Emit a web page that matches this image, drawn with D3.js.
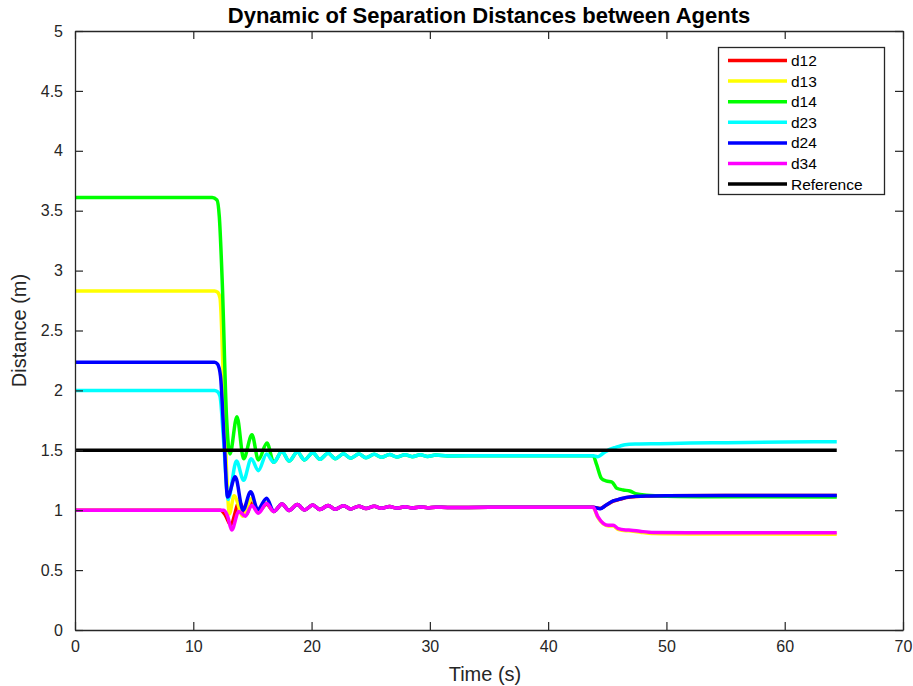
<!DOCTYPE html>
<html>
<head>
<meta charset="utf-8">
<script src="https://cdn.jsdelivr.net/npm/d3@7"></script>
<style>
  body { margin: 0; background: #fff; }
  svg text { font-family: "Liberation Sans", Arial, Helvetica, sans-serif; fill: #262626; }
</style>
</head>
<body>
<svg id="chart" width="913" height="686"></svg>
<script>
// ---- data -------------------------------------------------------------
const seriesNames  = ["d12", "d13", "d14", "d23", "d24", "d34"];
const seriesColors = ["#ff0000", "#ffff00", "#00ff00", "#00ffff", "#0000ff", "#ff00ff"];
const xTicks = [0, 10, 20, 30, 40, 50, 60, 70];
const yTicks = [0, 0.5, 1, 1.5, 2, 2.5, 3, 3.5, 4, 4.5, 5];

// settling ripple shared by the links (16.8 s .. 43.8 s)
const settleTime = [16.8, 17.5, 18.1, 18.8, 19.4, 20.1, 20.7, 21.4, 22.0, 22.7, 23.3, 24.0, 24.6,
                    25.3, 25.9, 26.6, 27.2, 27.9, 28.5, 29.2, 29.8, 30.5, 31.5, 35.0, 43.8];
const settleLow  = [0.99, 1.052, 0.998, 1.047, 1.002, 1.043, 1.005, 1.04, 1.008, 1.037, 1.011, 1.034, 1.014,
                    1.032, 1.016, 1.03, 1.018, 1.028, 1.019, 1.027, 1.021, 1.025, 1.023, 1.024, 1.024];
const settleHigh = [1.40, 1.49, 1.41, 1.485, 1.42, 1.48, 1.425, 1.476, 1.43, 1.472, 1.434, 1.469, 1.438,
                    1.467, 1.442, 1.465, 1.445, 1.463, 1.447, 1.462, 1.449, 1.46, 1.453, 1.455, 1.455];

// d12
const d12HeadT = [0, 12.3, 12.7, 13.15, 13.9, 14.45, 14.95, 15.5, 16.2];
const d12HeadD = [1.0, 1.0, 0.96, 0.88, 1.07, 0.96, 1.06, 0.985, 1.05];
const d12PostT = [44.4, 44.9, 45.5, 46.1, 46.6, 47.5, 48.5, 50, 55, 64.4];
const d12PostD = [1.015, 1.042, 1.075, 1.092, 1.105, 1.115, 1.118, 1.12, 1.122, 1.122];
// d13
const d13HeadT = [0, 11.8, 12.05, 12.26, 12.54, 12.85, 13.05, 13.45, 14.2, 14.95, 15.5, 16.2];
const d13HeadD = [2.83, 2.83, 2.82, 2.77, 2.1, 1.25, 0.97, 1.12, 0.95, 1.10, 0.985, 1.06];
const d13PostT = [44.2, 44.66, 45.1, 45.5, 45.9, 46.6, 47.0, 47.8, 48.9, 52, 64.4];
const d13PostD = [0.94, 0.885, 0.868, 0.868, 0.84, 0.828, 0.827, 0.816, 0.805, 0.802, 0.80];
// d14
const d14HeadT = [0, 11.6, 12.0, 12.2, 12.45, 12.8, 13.1, 13.69, 14.26, 14.96, 15.5, 16.23];
const d14HeadD = [3.61, 3.61, 3.59, 3.45, 2.9, 1.8, 1.47, 1.78, 1.43, 1.63, 1.42, 1.56];
const d14PostT = [44.1, 44.5, 44.9, 45.4, 45.8, 46.35, 46.9, 47.5, 48.3, 50, 55, 64.4];
const d14PostD = [1.38, 1.266, 1.244, 1.235, 1.183, 1.169, 1.16, 1.135, 1.125, 1.117, 1.112, 1.11];
// d23
const d23HeadT = [0, 11.8, 12.05, 12.26, 12.55, 12.95, 13.65, 14.25, 14.9, 15.5, 16.2];
const d23HeadD = [2.0, 2.0, 1.99, 1.95, 1.6, 1.09, 1.41, 1.25, 1.43, 1.33, 1.47];
const d23PostT = [44.2, 44.66, 45.2, 45.7, 46.1, 46.5, 47.5, 49.4, 52, 55.1, 60, 64.4];
const d23PostD = [1.447, 1.475, 1.508, 1.525, 1.536, 1.547, 1.552, 1.555, 1.56, 1.564, 1.569, 1.572];
// d24
const d24HeadT = [0, 11.8, 12.05, 12.3, 12.6, 12.9, 13.55, 14.2, 14.85, 15.45, 16.2];
const d24HeadD = [2.236, 2.236, 2.22, 2.12, 1.6, 1.11, 1.28, 1.0, 1.155, 1.005, 1.10];
const d24PostT = [44.4, 44.9, 45.5, 46.07, 46.6, 47.5, 48.5, 50, 55, 64.4];
const d24PostD = [1.012, 1.043, 1.077, 1.093, 1.107, 1.116, 1.119, 1.121, 1.122, 1.122];
// d34
const d34HeadT = [0, 12.6, 12.9, 13.25, 13.85, 14.4, 14.95, 15.5, 16.2];
const d34HeadD = [1.0, 1.0, 0.95, 0.835, 0.99, 0.95, 1.04, 0.975, 1.055];
const d34PostT = [44.2, 44.66, 45.08, 45.5, 45.93, 46.6, 47.0, 47.76, 48.9, 52, 64.4];
const d34PostD = [0.946, 0.89, 0.874, 0.874, 0.846, 0.835, 0.833, 0.824, 0.814, 0.812, 0.812];
// reference separation
const refT = [0, 64.4];
const refD = [1.5, 1.5];

// ---- assemble series ---------------------------------------------------
function join(ht, hd, settle, pt, pd) {
  const t = ht.concat(settleTime, pt);
  const d = hd.concat(settle, pd);
  return t.map((v, i) => [v, d[i]]);
}
const series = [
  join(d12HeadT, d12HeadD, settleLow,  d12PostT, d12PostD),
  join(d13HeadT, d13HeadD, settleLow,  d13PostT, d13PostD),
  join(d14HeadT, d14HeadD, settleHigh, d14PostT, d14PostD),
  join(d23HeadT, d23HeadD, settleHigh, d23PostT, d23PostD),
  join(d24HeadT, d24HeadD, settleLow,  d24PostT, d24PostD),
  join(d34HeadT, d34HeadD, settleLow,  d34PostT, d34PostD)
];
const refLine = refT.map((v, i) => [v, refD[i]]);

// ---- layout ------------------------------------------------------------
const W = 913, H = 686;
const m = { left: 75, right: 10, top: 31, bottom: 56 };
const svg = d3.select("#chart");
const x = d3.scaleLinear().domain([0, 70]).range([m.left, W - m.right]);
const y = d3.scaleLinear().domain([0, 5]).range([H - m.bottom, m.top]);
const axisColor = "#262626";
const tickLen = 8;
const lineWidth = 3.5;

// plot box
svg.append("rect")
  .attr("x", x(0)).attr("y", y(5))
  .attr("width", x(70) - x(0)).attr("height", y(0) - y(5))
  .attr("fill", "#fff");

// series lines
const line = d3.line().x(d => x(d[0])).y(d => y(d[1])).curve(d3.curveMonotoneX);
const plot = svg.append("g");
series.forEach((s, i) => {
  plot.append("path").datum(s)
    .attr("d", line)
    .attr("fill", "none")
    .attr("stroke", seriesColors[i])
    .attr("stroke-width", lineWidth)
    .attr("stroke-linejoin", "round");
});
plot.append("path").datum(refLine)
  .attr("d", line)
  .attr("fill", "none")
  .attr("stroke", "#000")
  .attr("stroke-width", lineWidth);

// axes (ticks pointing inward on all four sides)
function styleAxis(g) {
  g.select(".domain").attr("stroke", axisColor).attr("stroke-width", 1.3);
  g.selectAll(".tick line").attr("stroke", axisColor).attr("stroke-width", 1.2);
  g.selectAll(".tick text").attr("fill", axisColor).style("font-size", "16px");
}
svg.append("g")
  .attr("transform", `translate(0,${y(0)})`)
  .call(d3.axisBottom(x).tickValues(xTicks).tickFormat(d3.format("d")).tickSizeInner(-tickLen).tickSizeOuter(0).tickPadding(11))
  .call(styleAxis);
svg.append("g")
  .attr("transform", `translate(0,${y(5)})`)
  .call(d3.axisTop(x).tickValues(xTicks).tickFormat("").tickSizeInner(-tickLen).tickSizeOuter(0))
  .call(styleAxis);
svg.append("g")
  .attr("transform", `translate(${x(0)},0)`)
  .call(d3.axisLeft(y).tickValues(yTicks).tickFormat(d3.format("")).tickSizeInner(-tickLen).tickSizeOuter(0).tickPadding(12))
  .call(styleAxis);
svg.append("g")
  .attr("transform", `translate(${x(70)},0)`)
  .call(d3.axisRight(y).tickValues(yTicks).tickFormat("").tickSizeInner(-tickLen).tickSizeOuter(0))
  .call(styleAxis);

// titles
svg.append("text")
  .attr("x", (x(0) + x(70)) / 2).attr("y", 23)
  .attr("text-anchor", "middle")
  .style("font-size", "22px").style("font-weight", "bold")
  .style("fill", "#000")
  .text("Dynamic of Separation Distances between Agents");
svg.append("text")
  .attr("x", (x(0) + x(70)) / 2 - 4).attr("y", 681)
  .attr("text-anchor", "middle")
  .style("font-size", "20px")
  .text("Time (s)");
svg.append("text")
  .attr("transform", `translate(26,${(y(0) + y(5)) / 2}) rotate(-90)`)
  .attr("text-anchor", "middle")
  .style("font-size", "20px")
  .text("Distance (m)");

// legend
const legendNames = seriesNames.concat(["Reference"]);
const legendColors = seriesColors.concat(["#000000"]);
const lg = svg.append("g");
lg.append("rect")
  .attr("x", 718.5).attr("y", 47.5).attr("width", 166).attr("height", 147)
  .attr("fill", "#fff").attr("stroke", axisColor).attr("stroke-width", 1.3);
legendNames.forEach((name, i) => {
  const cy = 60.5 + i * 20.6;
  lg.append("line")
    .attr("x1", 728).attr("x2", 787).attr("y1", cy).attr("y2", cy)
    .attr("stroke", legendColors[i]).attr("stroke-width", lineWidth);
  lg.append("text")
    .attr("x", 791).attr("y", cy + 5.5)
    .style("font-size", "15.5px").style("fill", "#000")
    .text(name);
});
</script>
</body>
</html>
